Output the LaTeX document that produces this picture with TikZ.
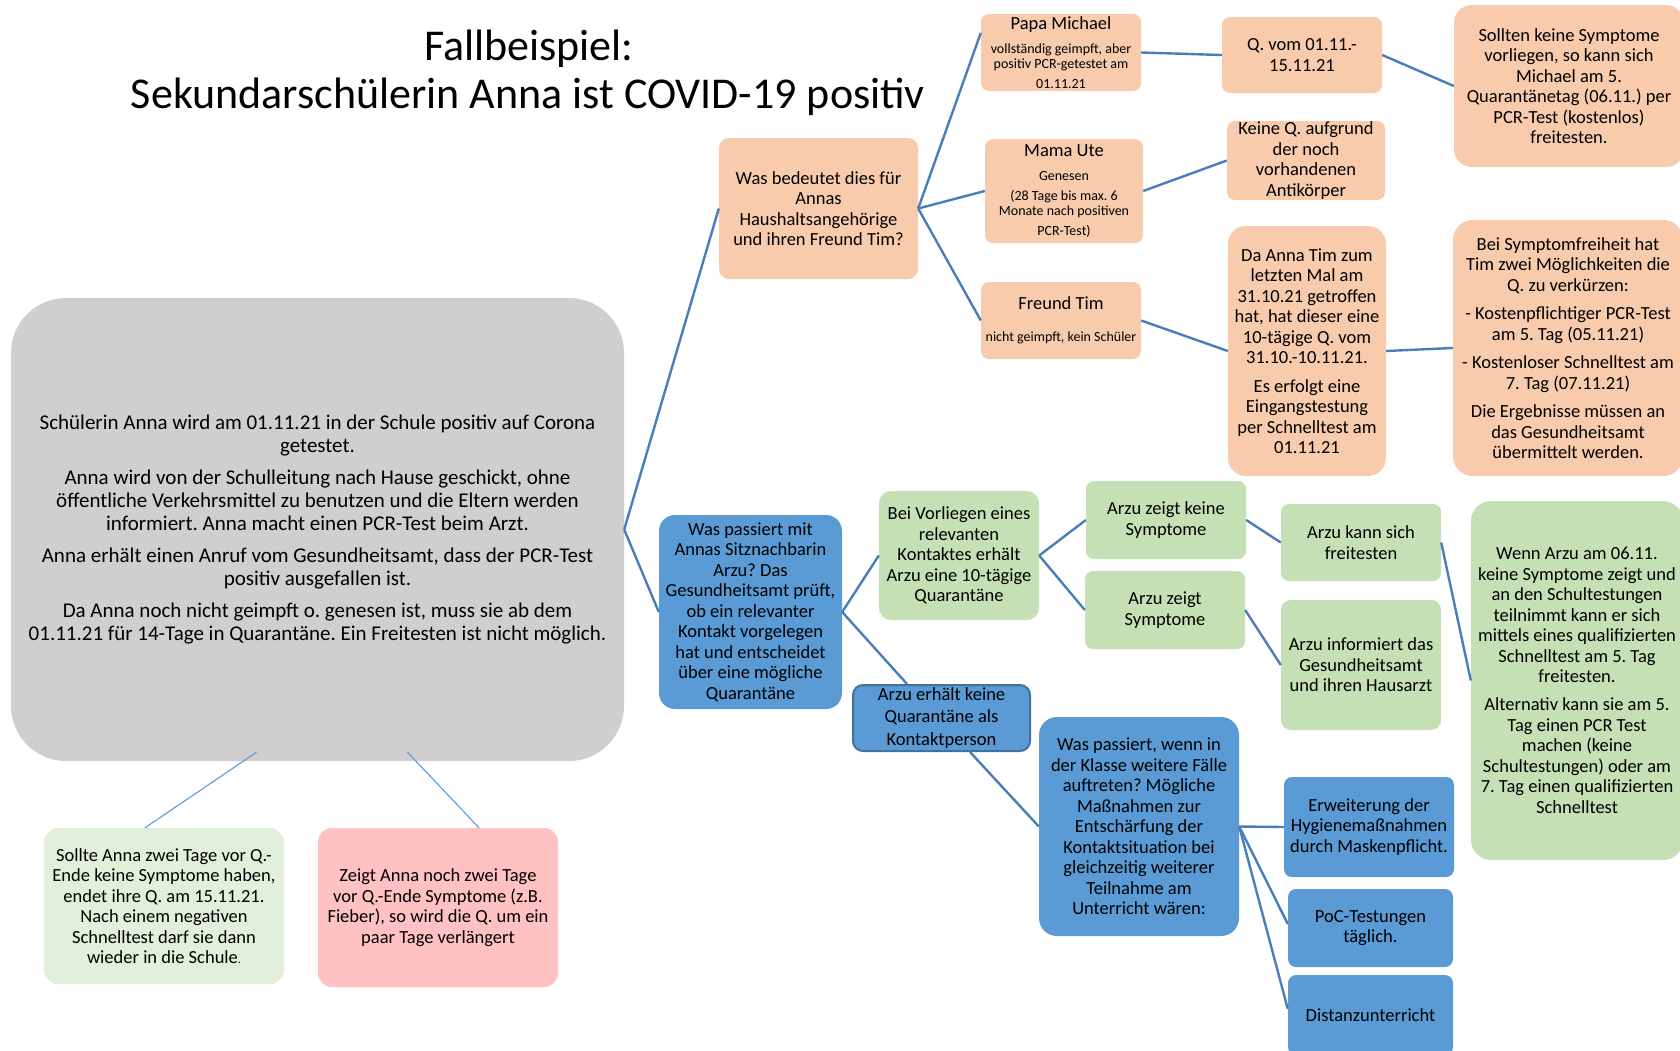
\documentclass[tikz,border=0pt]{standalone}
\usepackage{fontspec}
\setmainfont{Carlito}
\usetikzlibrary{calc}
\definecolor{peach}{HTML}{F8CBAD}
\definecolor{lgreen}{HTML}{C5E0B4}
\definecolor{pgreen}{HTML}{E2EFDA}
\definecolor{pinkc}{HTML}{FFC1C1}
\definecolor{bluec}{HTML}{5B9BD5}
\definecolor{greyc}{HTML}{D0CECE}
\definecolor{linec}{HTML}{4A7EBB}
\definecolor{darkb}{HTML}{41719C}
\newcommand\smtxt{\fontsize{14}{15}\selectfont}
\tikzset{
  bx/.style n args={2}{rectangle, inner sep=0pt, align=flush center, text=black,
     text width=#1, minimum height=#2, rounded corners=10pt,
     font=\fontsize{18.5}{20.5}\selectfont},
  orangebox/.style={fill=peach},
  greenbox/.style={fill=lgreen},
  bluebox/.style={fill=bluec},
  conn/.style={draw=linec, line width=2.4pt},
  thinconn/.style={draw=bluec, line width=1.1pt},
}
\begin{document}
\frenchspacing
\begin{tikzpicture}[x=1pt,y=-1pt]
\useasboundingbox (0,0) rectangle (1680,1050);
\fill[white] (0,0) rectangle (1680,1050);

% title
\node[anchor=base, font=\fontsize{44}{48}\selectfont] (t1) at (529,60) {Fallbeispiel:};
\node[anchor=base, font=\fontsize{44}{48}\selectfont] (t2) at (528,108) {Sekundarschülerin Anna ist COVID-19 positiv};

% main grey box
\node[bx={613pt}{463pt}, fill=greyc, rounded corners=55pt, font=\fontsize{21}{23}\selectfont] (main) at (317.5,529.5)
 {Schülerin Anna wird am 01.11.21 in der Schule positiv auf Corona\\getestet.\\[9pt]
  Anna wird von der Schulleitung nach Hause geschickt, ohne\\öffentliche Verkehrsmittel zu benutzen und die Eltern werden\\informiert. Anna macht einen PCR-Test beim Arzt.\\[9pt]
  Anna erhält einen Anruf vom Gesundheitsamt, dass der PCR-Test\\positiv ausgefallen ist.\\[9pt]
  Da Anna noch nicht geimpft o. genesen ist, muss sie ab dem\\01.11.21 für 14-Tage in Quarantäne. Ein Freitesten ist nicht möglich.};

% orange branch
\node[bx={199pt}{141pt}, orangebox] (qhaus) at (818.5,208.5)
 {Was bedeutet dies für\\Annas\\Haushaltsangehörige\\und ihren Freund Tim?};
\node[bx={160pt}{77pt}, orangebox, rounded corners=8pt] (papa) at (1061,52.5)
 {Papa Michael\par\vspace{9pt}\smtxt vollständig geimpft, aber\\positiv PCR-getestet am\\01.11.21};
\node[bx={158pt}{104pt}, orangebox, rounded corners=8pt] (mama) at (1064,191)
 {Mama Ute\par\vspace{9pt}\smtxt Genesen\\[5pt](28 Tage bis max. 6\\Monate nach positiven\\PCR-Test)};
\node[bx={160pt}{77pt}, orangebox, rounded corners=8pt] (tim) at (1061,320.5)
 {Freund Tim\par\vspace{11pt}\smtxt nicht geimpft, kein Schüler};
\node[bx={160pt}{76pt}, orangebox, rounded corners=8pt] (qvom) at (1302,55)
 {Q. vom 01.11.-\\15.11.21};
\node[bx={158pt}{79pt}, orangebox, rounded corners=8pt] (keineq) at (1306,160.5)
 {Keine Q. aufgrund\\der noch\\vorhandenen\\Antikörper};
\node[bx={158pt}{250pt}, orangebox, rounded corners=18pt] (daanna) at (1307,351)
 {Da Anna Tim zum\\letzten Mal am\\31.10.21 getroffen\\hat, hat dieser eine\\10-tägige Q. vom\\31.10.-10.11.21.\\[8pt]
  Es erfolgt eine\\Eingangstestung\\per Schnelltest am\\01.11.21};
\node[bx={230pt}{162pt}, orangebox, rounded corners=18pt] (sollten) at (1569,86)
 {Sollten keine Symptome\\vorliegen, so kann sich\\Michael am 5.\\Quarantänetag (06.11.) per\\PCR-Test (kostenlos)\\freitesten.};
\node[bx={230pt}{256pt}, orangebox, rounded corners=20pt] (beisym) at (1568,348)
 {Bei Symptomfreiheit hat\\Tim zwei Möglichkeiten die\\Q. zu verkürzen:\\[8pt]
  - Kostenpflichtiger PCR-Test\\am 5. Tag (05.11.21)\\[8pt]
  - Kostenloser Schnelltest am\\7. Tag (07.11.21)\\[8pt]
  Die Ergebnisse müssen an\\das Gesundheitsamt\\übermittelt werden.};

% blue / green branch
\node[bx={183pt}{194pt}, bluebox, rounded corners=16pt] (bluearzu) at (750.5,612)
 {Was passiert mit\\Annas Sitznachbarin\\Arzu? Das\\Gesundheitsamt prüft,\\ob ein relevanter\\Kontakt vorgelegen\\hat und entscheidet\\über eine mögliche\\Quarantäne};
\node[bx={160pt}{129pt}, greenbox, rounded corners=12pt] (beivor) at (959,555.5)
 {Bei Vorliegen eines\\relevanten\\Kontaktes erhält\\Arzu eine 10-tägige\\Quarantäne};
\node[bx={177pt}{66pt}, bluebox, draw=darkb, line width=2pt, font=\fontsize{18.5}{22.3}\selectfont] (keineqk) at (941.5,718)
 {Arzu erhält keine\\Quarantäne als\\Kontaktperson};
\node[bx={160pt}{78pt}, greenbox, rounded corners=8pt] (zeigtkeine) at (1166,520)
 {Arzu zeigt keine\\Symptome};
\node[bx={160pt}{78pt}, greenbox, rounded corners=8pt] (zeigtsym) at (1165,610)
 {Arzu zeigt\\Symptome};
\node[bx={160pt}{77pt}, greenbox, rounded corners=8pt] (kannsich) at (1361,542.5)
 {Arzu kann sich\\freitesten};
\node[bx={160pt}{130pt}, greenbox, rounded corners=10pt] (informiert) at (1361,665)
 {Arzu informiert das\\Gesundheitsamt\\und ihren Hausarzt};
\node[bx={212pt}{359pt}, greenbox, rounded corners=20pt] (wenn) at (1577,680.5)
 {Wenn Arzu am 06.11.\\keine Symptome zeigt und\\an den Schultestungen\\teilnimmt kann er sich\\mittels eines qualifizierten\\Schnelltest am 5. Tag\\freitesten.\\[7.5pt]
  Alternativ kann sie am 5.\\Tag einen PCR Test\\machen (keine\\Schultestungen) oder am\\7. Tag einen qualifizierten\\Schnelltest};
\node[bx={200pt}{219pt}, bluebox, rounded corners=18pt] (waswenn) at (1139,826.5)
 {Was passiert, wenn in\\der Klasse weitere Fälle\\auftreten? Mögliche\\Maßnahmen zur\\Entschärfung der\\Kontaktsituation bei\\gleichzeitig weiterer\\Teilnahme am\\Unterricht wären:};
\node[bx={170pt}{100pt}, bluebox, rounded corners=8pt] (erw) at (1369,827)
 {Erweiterung der\\Hygienemaßnahmen\\durch Maskenpflicht.};
\node[bx={165pt}{78pt}, bluebox, rounded corners=8pt] (poc) at (1370.5,928)
 {PoC-Testungen\\täglich.};
\node[bx={165pt}{80pt}, bluebox, rounded corners=8pt] (distanz) at (1370.5,1015)
 {Distanzunterricht};

% bottom-left boxes
\node[bx={240pt}{156pt}, fill=pgreen, rounded corners=14pt] (sollteanna) at (164,906)
 {Sollte Anna zwei Tage vor Q.-\\Ende keine Symptome haben,\\endet ihre Q. am 15.11.21.\\Nach einem negativen\\Schnelltest darf sie dann\\wieder in die Schule{\fontsize{12}{14}\selectfont.}};
\node[bx={240pt}{159pt}, fill=pinkc, rounded corners=14pt] (zeigtanna) at (438,907.5)
 {Zeigt Anna noch zwei Tage\\vor Q.-Ende Symptome (z.B.\\Fieber), so wird die Q. um ein\\paar Tage verlängert};

% connectors
\draw[conn] (main.east) -- (qhaus.west);
\draw[conn] (main.east) -- (bluearzu.west);
\draw[conn] (qhaus.east) -- ($(papa.north west)+(0,19)$);
\draw[conn] (qhaus.east) -- (mama.west);
\draw[conn] (qhaus.east) -- (tim.west);
\draw[conn] (papa.east) -- (qvom.west);
\draw[conn] (mama.east) -- (keineq.west);
\draw[conn] (tim.east) -- (daanna.west);
\draw[conn] (qvom.east) -- (sollten.west);
\draw[conn] (daanna.east) -- (beisym.west);
\draw[conn] (bluearzu.east) -- (beivor.west);
\draw[conn] (bluearzu.east) -- ($(keineqk.north west)+(55,0)$);
\draw[conn] (beivor.east) -- (zeigtkeine.west);
\draw[conn] (beivor.east) -- (zeigtsym.west);
\draw[conn] (zeigtkeine.east) -- (kannsich.west);
\draw[conn] (zeigtsym.east) -- (informiert.west);
\draw[conn] (kannsich.east) -- (wenn.west);
\draw[conn] ($(keineqk.south west)+(118,0)$) -- (waswenn.west);
\draw[conn] (waswenn.east) -- (erw.west);
\draw[conn] (waswenn.east) -- ($(poc.west)+(0,-4)$);
\draw[conn] (waswenn.east) -- ($(distanz.west)+(0,-6)$);
\draw[thinconn] ($(main.south)+(-61,-9)$) -- ($(sollteanna.north)+(-19,0)$);
\draw[thinconn] ($(main.south)+(90,-9)$) -- ($(zeigtanna.north)+(41,0)$);
\end{tikzpicture}
\end{document}
